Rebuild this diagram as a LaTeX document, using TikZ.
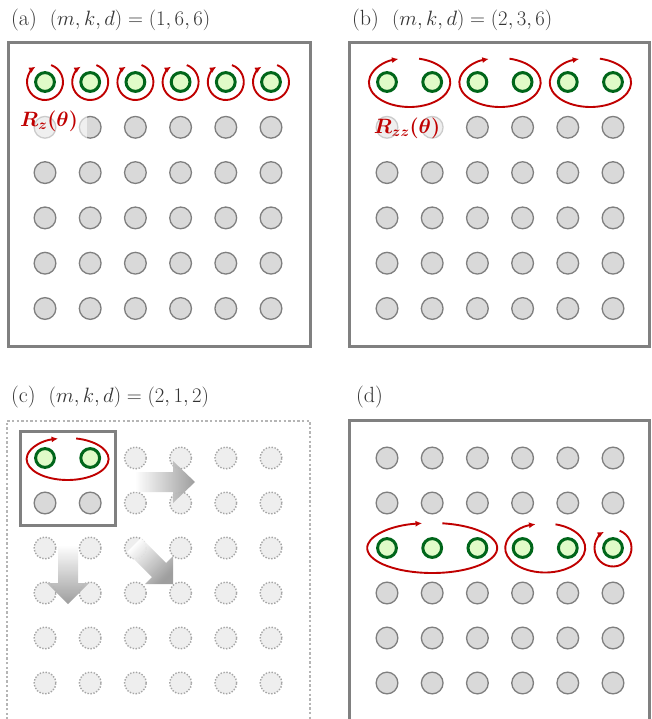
\documentclass[tikz,border=0pt]{standalone}
\usepackage{amsmath}
\usetikzlibrary{arrows.meta,calc}
\definecolor{frameg}{HTML}{808080}
\definecolor{cfill}{HTML}{D9D9D9}
\definecolor{cdraw}{HTML}{7F7F7F}
\definecolor{gfill}{HTML}{E0FBC8}
\definecolor{gdraw}{HTML}{00661A}
\definecolor{rred}{HTML}{C00000}
\definecolor{tgray}{HTML}{333333}
\definecolor{dfill}{HTML}{EEEEEE}
\definecolor{ddraw}{HTML}{A5A5A5}
\definecolor{dframe}{HTML}{B5B5B5}
\tikzset{
 qgray/.style={circle, draw=cdraw, fill=cfill, line width=1.3pt, minimum size=21.7pt, inner sep=0pt},
 qgreen/.style={circle, draw=gdraw, fill=gfill, line width=3pt, minimum size=18.8pt, inner sep=0pt},
 qdot/.style={circle, draw=ddraw, fill=dfill, line width=1.4pt, dash pattern=on 1.4pt off 1.6pt, minimum size=21.7pt, inner sep=0pt},
 frm/.style={draw=frameg, line width=3pt},
 rarc/.style={draw=rred, line width=1.9pt, -{Latex[length=6.5pt,width=6pt]}},
 ttl/.style={text=tgray, font=\fontsize{22}{26}\selectfont, anchor=base west, inner sep=0pt},
 rlab/.style={text=rred, font=\fontsize{20}{24}\selectfont, inner sep=0pt},
}
\begin{document}
\begin{tikzpicture}[x=1pt,y=-1pt]
\useasboundingbox (0,0) rectangle (651,719);
\fill[white] (0,0) rectangle (651,719);

% ---------- (a) ----------
\node[ttl] (ta) at (11,26) {(a)\hspace{13pt}$(m,k,d)=(1,6,6)$};
\draw[frm] (8,43) rectangle (310,346);
\foreach \i in {1,...,6}{
  \node[qgreen] (a1\i) at ({45+45.2*(\i-1)},82) {};
  \foreach \j in {2,...,6}{
    \node[qgray] (a\j\i) at ({45+45.2*(\i-1)},{82+45.3*(\j-1)}) {};
  }
  \draw[rarc] (a1\i.center) ++(70:18pt) arc[start angle=70, end angle=-238, radius=18pt];
}
\fill[fill=white, fill opacity=0.6] (24,107) rectangle (87,142);
\node[rlab] (rza) at (49,121) {$\boldsymbol{R_z(\theta)}$};

% ---------- (b) ----------
\node[ttl] (tb) at (352,26) {(b)\hspace{13pt}$(m,k,d)=(2,3,6)$};
\draw[frm] (349,43) rectangle (649.5,346);
\foreach \i in {1,...,6}{
  \node[qgreen] (b1\i) at ({387+45.2*(\i-1)},82) {};
  \foreach \j in {2,...,6}{
    \node[qgray] (b\j\i) at ({387+45.2*(\i-1)},{82+45.3*(\j-1)}) {};
  }
}
\foreach \p/\q in {1/2,3/4,5/6}{
  \coordinate (eb\p) at ($(b1\p)!0.5!(b1\q)+(0,0.5)$);
  \draw[rarc] (eb\p) ++(76.5:40.7pt and 24.5pt) arc[start angle=76.5, end angle=-254, x radius=40.7pt, y radius=24.5pt];
}
\fill[fill=white, fill opacity=0.6] (373,110) rectangle (446,144);
\node[rlab] (rzb) at (407,128) {$\boldsymbol{R_{zz}(\theta)}$};

% ---------- (c) ----------
\node[ttl] (tc) at (11,402) {(c)\hspace{13pt}$(m,k,d)=(2,1,2)$};
\draw[draw=dframe, line width=2.6pt, dash pattern=on 2.4pt off 2.2pt] (7,719.5) -- (7,421) -- (310,421) -- (310,719.5);
\foreach \i in {1,...,6}{
  \foreach \j in {1,...,6}{
    \node[qdot] (c\j\i) at ({45+45.2*(\i-1)},{458+45*(\j-1)}) {};
  }
}
\draw[frm, fill=white] (20,431) rectangle (115,525);
\node[qgreen] (g11) at (45,458) {};
\node[qgreen] (g12) at (90.2,458) {};
\node[qgray] (g21) at (45,503) {};
\node[qgray] (g22) at (90.2,503) {};
\coordinate (ec) at ($(g11)!0.5!(g12)+(0,1)$);
\draw[rarc] (ec) ++(78:41pt and 21pt) arc[start angle=78, end angle=-256.5, x radius=41pt, y radius=21pt];
% gradient arrows
\shade[left color=white, right color=black!40, opacity=0.95]
  (135,472) -- (173,472) -- (173,461) -- (195,482) -- (173,503) -- (173,492) -- (135,492) -- cycle;
\shade[top color=white, bottom color=black!40, opacity=0.95]
  (58,545) -- (58,583) -- (47,583) -- (68,604) -- (89,583) -- (78,583) -- (78,545) -- cycle;
\shade[top color=white, bottom color=black!40, shading angle=45, opacity=0.95]
  (127.0,552.2) -- (151.9,577.1) -- (145,584) -- (173,584) -- (173,556) -- (166.1,562.9) -- (141.2,538.0) -- cycle;

% ---------- (d) ----------
\node[ttl] (td) at (356,402) {(d)};
\draw[frm] (349,719.5) -- (349,420) -- (649.5,420) -- (649.5,719.5);
\foreach \i in {1,...,6}{
  \foreach \j in {1,2,4,5,6}{
    \node[qgray] (d\j\i) at ({387+45.2*(\i-1)},{458+45*(\j-1)}) {};
  }
  \node[qgreen] (d3\i) at ({387+45.2*(\i-1)},548) {};
}
\coordinate (ed1) at (d32);
\draw[rarc] (ed1) ++(81:65pt and 25pt) arc[start angle=81, end angle=-261, x radius=65pt, y radius=25pt];
\coordinate (ed2) at ($(d34)!0.5!(d35)$);
\draw[rarc] (ed2) ++(75:40pt and 24.5pt) arc[start angle=75, end angle=-256, x radius=40pt, y radius=24.5pt];
\draw[rarc] (d36.center) ++(69:18.5pt) arc[start angle=69, end angle=-241, radius=18.5pt];
\end{tikzpicture}
\end{document}
